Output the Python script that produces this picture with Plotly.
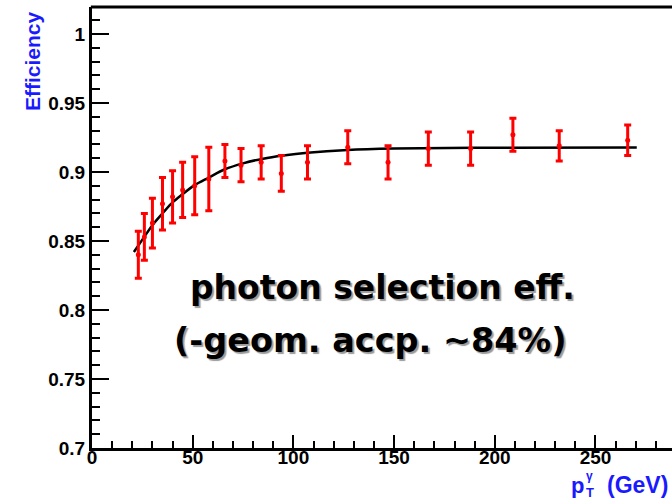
import plotly.graph_objects as go

# Measured photon selection efficiency vs photon pT
pt = [23, 26, 30, 35, 40, 45, 51, 58, 66, 74, 84, 94, 107, 127, 147, 167, 188, 209, 232, 266]
eff = [0.840, 0.853, 0.863, 0.877, 0.882, 0.887, 0.890, 0.895, 0.908, 0.905,
       0.907, 0.899, 0.907, 0.918, 0.907, 0.917, 0.917, 0.927, 0.919, 0.923]
eff_err = [0.017, 0.017, 0.018, 0.019, 0.019, 0.020, 0.021, 0.023, 0.012, 0.012,
           0.012, 0.013, 0.012, 0.012, 0.012, 0.012, 0.012, 0.012, 0.011, 0.011]

# Fitted turn-on curve (sampled)
fit_pt = [20.8, 25, 30, 35, 40, 45, 51, 58, 66, 75, 85, 95, 107, 127, 150, 190, 270.5]
fit_eff = [0.842, 0.851, 0.8615, 0.870, 0.878, 0.884, 0.8905, 0.896, 0.902, 0.9063,
           0.9097, 0.912, 0.914, 0.916, 0.917, 0.9176, 0.9178]

x_ticks = [0, 50, 100, 150, 200, 250]
x_tick_text = ["0", "50", "100", "150", "200", "250"]
y_ticks = [0.7, 0.75, 0.8, 0.85, 0.9, 0.95, 1.0]
y_tick_text = ["0.7", "0.75", "0.8", "0.85", "0.9", "0.95", "1"]

BLUE = "#1a1aff"
W, H = 672, 501
L, R, T, B = 92, 0, 7, 53
PW, PH = W - L - R, H - T - B


def px(xpix):
    return (xpix - L) / PW


def py(ypix):
    return (H - B - ypix) / PH


def bold(labels):
    return ["<b>%s</b>" % s for s in labels]


fig = go.Figure()

fig.add_trace(go.Scatter(
    x=fit_pt, y=fit_eff, mode="lines", line=dict(color="black", width=2.5, shape="spline"),
    hoverinfo="skip", showlegend=False,
))

fig.add_trace(go.Scatter(
    x=pt, y=eff, mode="markers",
    marker=dict(color="#ff0000", size=5),
    error_y=dict(type="data", array=eff_err, color="#ff0000", thickness=3, width=3.5),
    showlegend=False,
))

tick_font = dict(family="Liberation Sans", size=19, color="black")

fig.update_xaxes(
    range=[0, 288], tickvals=x_ticks, ticktext=bold(x_tick_text), ticks="inside", ticklen=13,
    tickwidth=2, tickcolor="black", showline=True, linewidth=3, linecolor="black",
    showgrid=False, zeroline=False, tickfont=tick_font, ticklabelstandoff=-10,
    minor=dict(ticks="inside", ticklen=7, tickwidth=2, tickcolor="black", dtick=10, tick0=0, showgrid=False),
)
fig.update_yaxes(
    range=[0.7, 1.0196], tickvals=y_ticks, ticktext=bold(y_tick_text), ticks="inside", ticklen=17,
    tickwidth=2, tickcolor="black", showline=True, linewidth=3, linecolor="black",
    showgrid=False, zeroline=False, tickfont=tick_font,
    minor=dict(ticks="inside", ticklen=8, tickwidth=2, tickcolor="black", dtick=0.01, tick0=0.7, showgrid=False),
)

title_font = dict(family="Liberation Sans", color=BLUE)
annotations = [
    # y-axis title, aligned to the top of the axis
    dict(text="<b>Efficiency</b>", x=px(32), y=py(10), xanchor="center", yanchor="top",
         textangle=-90, font=dict(size=21, **title_font)),
    # x-axis title pieces: p, stacked T / gamma, (GeV)
    dict(text="<b>p</b>", x=px(585), y=py(485), xanchor="right", yanchor="middle",
         font=dict(size=22, **title_font)),
    dict(text="<b>γ</b>", x=px(585), y=py(476), xanchor="left", yanchor="middle",
         font=dict(size=12, **title_font)),
    dict(text="<b>T</b>", x=px(585), y=py(492), xanchor="left", yanchor="middle",
         font=dict(size=13, **title_font)),
    dict(text="<b>(GeV)</b>", x=px(669), y=py(485), xanchor="right", yanchor="middle",
         font=dict(size=23, **title_font)),
]

label_lines = [("photon selection eff.", 382, 287, 33), ("(-geom. accp. ~84%)", 370, 340, 33.5)]
for txt, cx, cy, sz in label_lines:
    annotations.append(dict(text="<b>%s</b>" % txt, x=px(cx), y=py(cy), xanchor="center", yanchor="middle",
                            font=dict(family="DejaVu Sans", size=sz, color="black",
                                      shadow="2px 2px 1px #9a9a9a")))

for a in annotations:
    a.update(xref="paper", yref="paper", showarrow=False, borderpad=0)

fig.update_layout(
    width=W, height=H,
    margin=dict(l=L, r=R, t=T, b=B),
    paper_bgcolor="white", plot_bgcolor="white",
    annotations=annotations,
    shapes=[dict(type="line", xref="paper", yref="paper", x0=-0.002, x1=1, y0=1, y1=1,
                 line=dict(color="black", width=3))],
)

fig.write_html("out.html")
